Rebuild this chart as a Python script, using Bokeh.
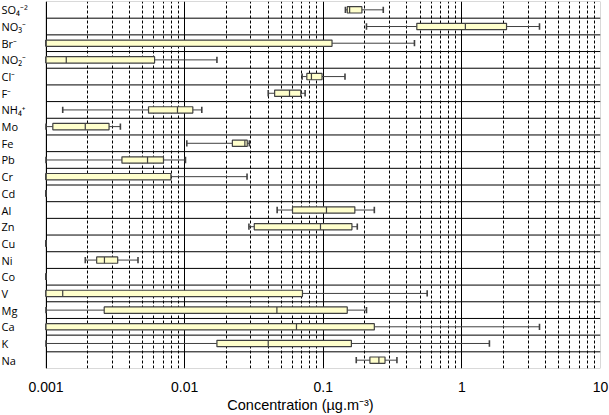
from bokeh.plotting import figure
from bokeh.models import Range1d, FixedTicker, ColumnDataSource, BoxAnnotation
from bokeh.core.properties import value
from bokeh.embed import file_html
from bokeh.resources import INLINE
import math

# Categories, top to bottom
species = ["SO₄⁻²", "NO₃⁻", "Br⁻", "NO₂⁻", "Cl⁻", "F⁻", "NH₄⁺", "Mo", "Fe", "Pb", "Cr",
           "Cd", "Al", "Zn", "Cu", "Ni", "Co", "V", "Mg", "Ca", "K", "Na"]
# Box-plot statistics (µg.m-3)
w_low  = [0.1445, 0.205, 0.001, 0.001, 0.0704, 0.0401, 0.00132, 0.001, 0.01037, 0.001, 0.001,
          0.001, 0.0465, 0.0291, 0.001, 0.00192, 0.001, 0.001, 0.001, 0.001, 0.001, 0.173]
q1     = [0.149, 0.473, 0.001, 0.001, 0.0761, 0.0446, 0.00549, 0.00112, 0.0221, 0.00353, 0.001,
          0.001, 0.060, 0.0318, 0.001, 0.00232, 0.001, 0.001, 0.00263, 0.001, 0.0171, 0.217]
median = [0.155, 1.06, 0.001, 0.0014, 0.0822, 0.0571, 0.00888, 0.00192, 0.0272, 0.0054, 0.001,
          0.001, 0.1055, 0.0955, 0.001, 0.00264, 0.001, 0.00132, 0.0463, 0.0641, 0.0401, 0.252]
q3     = [0.190, 2.10, 0.1157, 0.00607, 0.098, 0.0689, 0.01146, 0.00285, 0.0283, 0.00704, 0.00796,
          0.001, 0.169, 0.161, 0.001, 0.00329, 0.001, 0.0708, 0.149, 0.2336, 0.1596, 0.279]
w_high = [0.271, 3.63, 0.455, 0.0171, 0.1435, 0.0740, 0.0133, 0.00344, 0.0293, 0.01014, 0.0282,
          0.001, 0.2336, 0.176, 0.001, 0.00461, 0.001, 0.562, 0.205, 3.63, 1.58, 0.340]
x_ticks = [0.001, 0.01, 0.1, 1, 10]
x_tick_labels = ["0.001", "0.01", "0.1", "1", "10"]

# layout constants (pixels)
LABEL_PX = 45.5     # room for category labels, inside the frame
FRAME_PX = 600.0    # frame width

n = len(species)
ypos = [n - i - 0.5 for i in range(n)]
half = 0.19

xmin_axis, xmax_axis = x_ticks[0], x_ticks[-1]
decades = math.log10(xmax_axis / xmin_axis)
x_left = xmin_axis / 10 ** (decades * LABEL_PX / (FRAME_PX - LABEL_PX))

src = ColumnDataSource(dict(y=ypos, lo=w_low, q1=q1, med=median, q3=q3, hi=w_high,
                            y0=[v - half for v in ypos], y1=[v + half for v in ypos]))

p = figure(width=609, height=415, x_axis_type="log", output_backend="svg",
           toolbar_location=None, x_range=Range1d(x_left, xmax_axis), y_range=Range1d(0, n),
           min_border_left=0, min_border_right=9, min_border_top=1, min_border_bottom=45)
p.background_fill_color = "white"
p.border_fill_color = "white"
p.outline_line_color = None

minor = [m * 10 ** e for e in range(-3, 1) for m in range(2, 10)]
p.xaxis.ticker = FixedTicker(ticks=x_ticks, minor_ticks=minor)
p.xaxis.major_label_overrides = {t: l for t, l in zip(x_ticks, x_tick_labels)}
p.xaxis.axis_label = "Concentration (µg.m⁻³)"
p.xaxis.axis_label_text_font = "Liberation Sans"
p.xaxis.axis_label_text_font_style = "normal"
p.xaxis.axis_label_text_font_size = "14.5px"
p.xaxis.axis_label_text_color = "black"
p.xaxis.axis_label_standoff = 2
p.xaxis.major_label_text_font = "Liberation Sans"
p.xaxis.major_label_text_font_size = "14px"
p.xaxis.major_label_text_color = "black"
p.xaxis.major_label_standoff = 13
p.xaxis.major_tick_out = 0
p.xaxis.major_tick_in = 0
p.xaxis.minor_tick_out = 0
p.xaxis.minor_tick_in = 0
p.xaxis.axis_line_color = None

p.xgrid.grid_line_color = "black"
p.xgrid.grid_line_width = 1
p.xgrid.minor_grid_line_color = "black"
p.xgrid.minor_grid_line_dash = "3 2"
p.xgrid.minor_grid_line_width = 1

p.yaxis.visible = False
p.ygrid.visible = False

# row separators, limited to the plotting area
seps = list(range(1, n))
p.segment(x0=[xmin_axis] * len(seps), x1=[xmax_axis] * len(seps), y0=seps, y1=seps,
          line_color="black", line_width=1)

# plot-area border
p.add_layout(BoxAnnotation(left=xmin_axis, right=xmax_axis, bottom=0, top=n,
                           fill_color=None, line_color="black", line_width=1, level="underlay"))

lc = "#404040"
# whiskers
p.segment(x0="lo", y0="y", x1="q1", y1="y", source=src, line_color=lc, line_width=1)
p.segment(x0="q3", y0="y", x1="hi", y1="y", source=src, line_color=lc, line_width=1)
# caps
p.segment(x0="lo", y0="y0", x1="lo", y1="y1", source=src, line_color=lc, line_width=1.6)
p.segment(x0="hi", y0="y0", x1="hi", y1="y1", source=src, line_color=lc, line_width=1.6)
# boxes
p.quad(left="q1", right="q3", bottom="y0", top="y1", source=src,
       fill_color="#FFFFCC", line_color=lc, line_width=1.2)
# medians
p.segment(x0="med", y0="y0", x1="med", y1="y1", source=src, line_color=lc, line_width=1.2)

# category labels, left aligned at the left edge
p.text(x=[x_left] * n, y=ypos, text=species, x_offset=1,
       text_font=value("Open Sans"), text_font_size="11px",
       text_baseline="middle", text_align="left", text_color="black")

open("out.html", "w").write(file_html(p, INLINE))
